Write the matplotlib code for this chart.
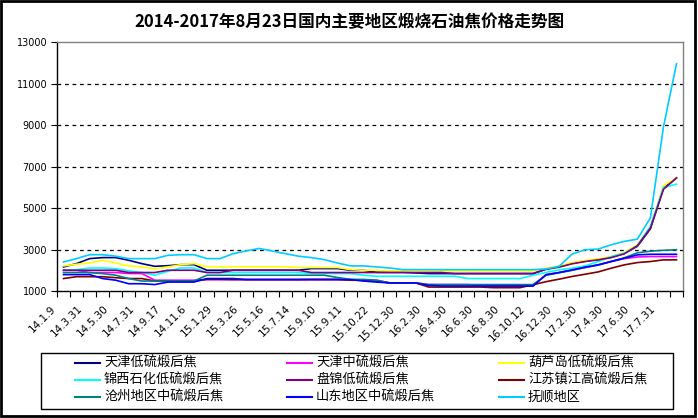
import matplotlib
matplotlib.use("Agg")
import matplotlib.pyplot as plt
from matplotlib.lines import Line2D
from matplotlib.patches import Rectangle
import matplotlib.transforms as mtransforms

plt.rcParams['font.family'] = ['Noto Sans CJK SC', 'DejaVu Sans']

title = "2014-2017年8月23日国内主要地区煅烧石油焦价格走势图"

tick_labels = ["14.1.9", "14.3.31", "14.5.30", "14.7.31", "14.9.17", "14.11.6",
               "15.1.29", "15.3.26", "15.5.16", "15.7.14", "15.9.10", "15.9.11",
               "15.10.22", "15.12.30", "16.2.30", "16.4.30", "16.6.30", "16.8.30",
               "16.10.12", "16.12.30", "17.2.30", "17.4.30", "17.6.30", "17.7.31"]

names = ["天津低硫煅后焦", "天津中硫煅后焦", "葫芦岛低硫煅后焦",
         "锦西石化低硫煅后焦", "盘锦低硫煅后焦", "江苏镇江高硫煅后焦",
         "沧州地区中硫煅后焦", "山东地区中硫煅后焦", "抚顺地区"]

tianjin_low = [2160, 2320, 2560, 2610, 2610, 2480, 2320, 2190, 2220, 2270, 2270, 2000,
               2000, 2000, 2000, 2000, 2000, 2000, 2000, 2080, 2080, 2080, 2000, 2000,
               1900, 1900, 1900, 1870, 1840, 1840, 1840, 1840, 1840, 1840, 1840, 1840,
               1840, 2050, 2180, 2340, 2440, 2520, 2630, 2820, 3150, 4000, 5950, 6450]
tianjin_mid = [2000, 2000, 1890, 1890, 1890, 1840, 1840, 1520, 1520, 1520, 1520, 1550,
               1550, 1550, 1550, 1550, 1550, 1550, 1550, 1550, 1550, 1550, 1550, 1520,
               1520, 1390, 1390, 1390, 1310, 1310, 1310, 1310, 1240, 1240, 1240, 1240,
               1240, 1800, 1890, 2000, 2130, 2250, 2420, 2560, 2640, 2660, 2660, 2660]
huludao_low = [2210, 2290, 2350, 2480, 2350, 2210, 2160, 2060, 2160, 2270, 2320, 2160,
               2160, 2160, 2160, 2160, 2160, 2160, 2130, 2130, 2130, 2130, 2030, 2000,
               2000, 1970, 1970, 1970, 1970, 1970, 1970, 1970, 1970, 1970, 1970, 1970,
               1970, 2100, 2210, 2370, 2470, 2550, 2660, 2860, 3230, 4110, 6080, 6450]
jinxi_low = [2000, 2030, 2110, 2110, 2080, 1970, 1890, 1760, 1950, 2110, 2110, 1890,
             1890, 1890, 1890, 1890, 1890, 1890, 1890, 1840, 1840, 1840, 1840, 1760,
             1710, 1710, 1710, 1710, 1710, 1710, 1710, 1600, 1600, 1600, 1600, 1600,
             1760, 1900, 2020, 2100, 2210, 2420, 2660, 2820, 3180, 4110, 5990, 6150]
panjin_low = [2000, 2000, 2000, 2000, 2000, 1890, 1890, 1890, 2000, 2000, 2000, 1890,
              1890, 2000, 2000, 2000, 2000, 2000, 2000, 1890, 1890, 1890, 1890, 1890,
              1890, 1890, 1890, 1890, 1890, 1890, 1840, 1840, 1840, 1840, 1840, 1840,
              1840, 2050, 2150, 2310, 2420, 2500, 2610, 2790, 3180, 4030, 5900, 6450]
jiangsu_high = [1600, 1690, 1690, 1690, 1640, 1600, 1600, 1480, 1480, 1480, 1480, 1560,
                1560, 1550, 1550, 1550, 1550, 1550, 1550, 1560, 1560, 1560, 1520, 1520,
                1480, 1390, 1390, 1390, 1190, 1190, 1190, 1190, 1190, 1160, 1160, 1160,
                1300, 1450, 1570, 1700, 1810, 1920, 2100, 2260, 2370, 2420, 2500, 2500]
cangzhou_mid = [1890, 1890, 1890, 1840, 1760, 1600, 1480, 1480, 1480, 1480, 1480, 1760,
                1760, 1760, 1760, 1760, 1760, 1760, 1760, 1760, 1760, 1650, 1560, 1560,
                1520, 1390, 1390, 1390, 1310, 1310, 1310, 1310, 1310, 1310, 1310, 1310,
                1310, 1760, 1880, 2000, 2140, 2260, 2430, 2600, 2840, 2920, 2960, 2990]
shandong_mid = [1790, 1790, 1790, 1600, 1520, 1350, 1350, 1310, 1430, 1430, 1430, 1600,
                1600, 1600, 1550, 1550, 1550, 1550, 1550, 1550, 1550, 1550, 1550, 1480,
                1430, 1390, 1390, 1390, 1270, 1240, 1240, 1240, 1240, 1240, 1240, 1240,
                1240, 1780, 1890, 2020, 2150, 2260, 2420, 2580, 2740, 2770, 2770, 2770]
fushun = [2400, 2560, 2750, 2750, 2680, 2560, 2560, 2560, 2720, 2750, 2750, 2560,
          2560, 2800, 2930, 3050, 2930, 2800, 2680, 2610, 2510, 2350, 2210, 2210,
          2160, 2110, 2030, 2030, 2030, 2030, 2030, 2030, 2030, 2030, 2030, 2030,
          2030, 2060, 2190, 2780, 2990, 3020, 3230, 3390, 3500, 4520, 8900, 11950]

series = [tianjin_low, tianjin_mid, huludao_low, jinxi_low, panjin_low,
          jiangsu_high, cangzhou_mid, shandong_mid, fushun]
colors = ["#000080", "#FF00FF", "#FFFF00", "#00FFFF", "#800080",
          "#800000", "#008080", "#0000FF", "#00CCFF"]

y_ticks = [1000, 3000, 5000, 7000, 9000, 11000, 13000]

W, H = 698, 418
fig = plt.figure(figsize=(W / 100, H / 100), dpi=100)
fig.patch.set_facecolor("white")

L, R, T, B = 57, 683, 42, 291
ax = fig.add_axes([L / W, 1 - B / H, (R - L) / W, (B - T) / H])

n = len(fushun)
xs = [i + 0.5 for i in range(n)]
for s, c in zip(series, colors):
    ax.plot(xs, s, color=c, lw=1.2, solid_joinstyle="miter")

ax.set_xlim(0, n)
ax.set_ylim(y_ticks[0], y_ticks[-1])

for v in y_ticks[1:-1]:
    ax.axhline(v, color="black", lw=0.9, ls=(0, (3, 3)), zorder=0.5)

ax.set_yticks(y_ticks)
ax.set_yticklabels([str(v) for v in y_ticks], fontsize=7, family="DejaVu Sans")
ax.tick_params(axis="y", direction="out", length=4, width=0.8, pad=3)

ax.set_xticks([i + 0.5 for i in range(0, n, 2)])
ax.set_xticklabels(tick_labels, fontsize=7.5, rotation=45, ha="right", va="top",
                   family="DejaVu Sans")
ax.tick_params(axis="x", which="major", length=0, pad=9)
ax.set_xticks(range(0, n + 1), minor=True)
ax.tick_params(axis="x", which="minor", direction="out", length=4, width=0.8)
offset = mtransforms.ScaledTranslation(-4 / 72, 0, fig.dpi_scale_trans)
for lab in ax.get_xticklabels():
    lab.set_transform(lab.get_transform() + offset)

for sp in ["left", "bottom"]:
    ax.spines[sp].set_color("black")
    ax.spines[sp].set_linewidth(1)
for sp in ["top", "right"]:
    ax.spines[sp].set_color("#808080")
    ax.spines[sp].set_linewidth(1)

fig.text(0.5, 1 - 22 / H, title, ha="center", va="center", fontsize=12,
         fontweight="bold")

# legend box
fig.patches.append(Rectangle((41 / W, 1 - 409 / H), (673 - 41) / W, (409 - 353) / H,
                             transform=fig.transFigure, fill=False, edgecolor="black",
                             lw=1))
col_x = [75, 287, 499]
row_y = [363, 380, 397]
for k, (nm, c) in enumerate(zip(names, colors)):
    r, cc = divmod(k, 3)
    x0 = col_x[cc]
    y0 = row_y[r]
    fig.lines.append(Line2D([x0 / W, (x0 + 25) / W], [1 - y0 / H, 1 - y0 / H],
                            transform=fig.transFigure, color=c, lw=1.5))
    fig.text((x0 + 29) / W, 1 - y0 / H, nm, ha="left", va="center", fontsize=9.5)

# outer border
fig.patches.append(Rectangle((1 / W, 1 - 416 / H), 694 / W, 415 / H,
                             transform=fig.transFigure, fill=False, edgecolor="black",
                             lw=2))

fig.savefig("out.png", dpi=100)
